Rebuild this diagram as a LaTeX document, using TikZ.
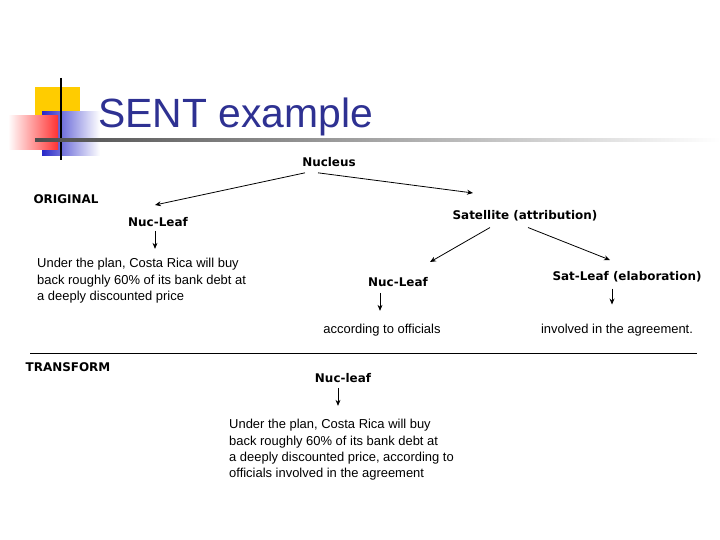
\documentclass[tikz,border=0pt]{standalone}
\usepackage{fontspec}
\usetikzlibrary{arrows.meta}
\setmainfont{DejaVu Sans}
\newfontfamily\bodyfont{Liberation Sans}
\definecolor{titleblue}{RGB}{46,49,146}
\definecolor{sqyellow}{RGB}{255,204,0}
\definecolor{sqblue}{RGB}{40,40,200}
\begin{document}
\begin{tikzpicture}[x=1bp,y=-1bp,>={Stealth[length=6pt,width=5pt]},
  lbl/.style={font=\bfseries\fontsize{12}{14}\selectfont,inner sep=1pt},
  body/.style={font=\bodyfont\fontsize{13}{16.5}\selectfont,align=left,inner sep=0pt},
  link/.style={->,thick}]
\useasboundingbox (0,0) rectangle (720,540);
% logo
\fill[sqyellow] (35,87) rectangle (80,124);
\shade[left color=sqblue,right color=white] (42,112) rectangle (100,156);
\shade[left color=white,right color=red!80] (8,116) rectangle (58,150);
\draw[line width=1.5pt] (61,78) -- (61,160);
\shade[left color=black!70,right color=white] (35,139) rectangle (720,141.5);
\node[anchor=base west,text=titleblue,font=\fontsize{41}{46}\selectfont\bodyfont,inner sep=0pt] (title) at (98,128) {SENT example};
% original
\node[lbl] (orig) at (66,199) {ORIGINAL};
\node[lbl] (nucleus) at (329,162) {Nucleus};
\node[lbl] (nucleaf) at (158,222) {Nuc-Leaf};
\node[lbl] (sat) at (525,216) {Satellite (attribution)};
\node[body,anchor=north west] (text1) at (37,258) {Under the plan, Costa Rica will buy\\back roughly 60\% of its bank debt at\\a deeply discounted price};
\node[lbl] (nucleaf2) at (398,282) {Nuc-Leaf};
\node[lbl] (satleaf) at (627,277) {Sat-Leaf (elaboration)};
\node[font=\bodyfont\fontsize{13}{15}\selectfont] (acc) at (382,330) {according to officials};
\node[font=\bodyfont\fontsize{13}{15}\selectfont] (inv) at (617,330) {involved in the agreement.};
\draw[link] (nucleus.south) ++(-24,5) -- (155,205);
\draw[link] (nucleus.south) ++(-11,5) -- (473,193);
\draw[link] (nucleaf.south) ++(-3,3) -- ++(0,18);
\draw[link] (sat.south) ++(-35,5) -- (430,262);
\draw[link] (sat.south) ++(3,5) -- (610,260);
\draw[link] (nucleaf2.south) ++(-18,5) -- ++(0,18);
\draw[link] (satleaf.south) ++(-15,5) -- ++(0,16);
% transform
\draw (30,353) -- (697,353);
\node[lbl] (trans) at (68,367) {TRANSFORM};
\node[lbl] (nucleaf3) at (343,378) {Nuc-leaf};
\draw[link] (nucleaf3.south) ++(-5,4) -- ++(0,18);
\node[body,anchor=north west] (text2) at (229,419) {Under the plan, Costa Rica will buy\\back roughly 60\% of its bank debt at\\a deeply discounted price, according to\\officials involved in the agreement};
\end{tikzpicture}
\end{document}
